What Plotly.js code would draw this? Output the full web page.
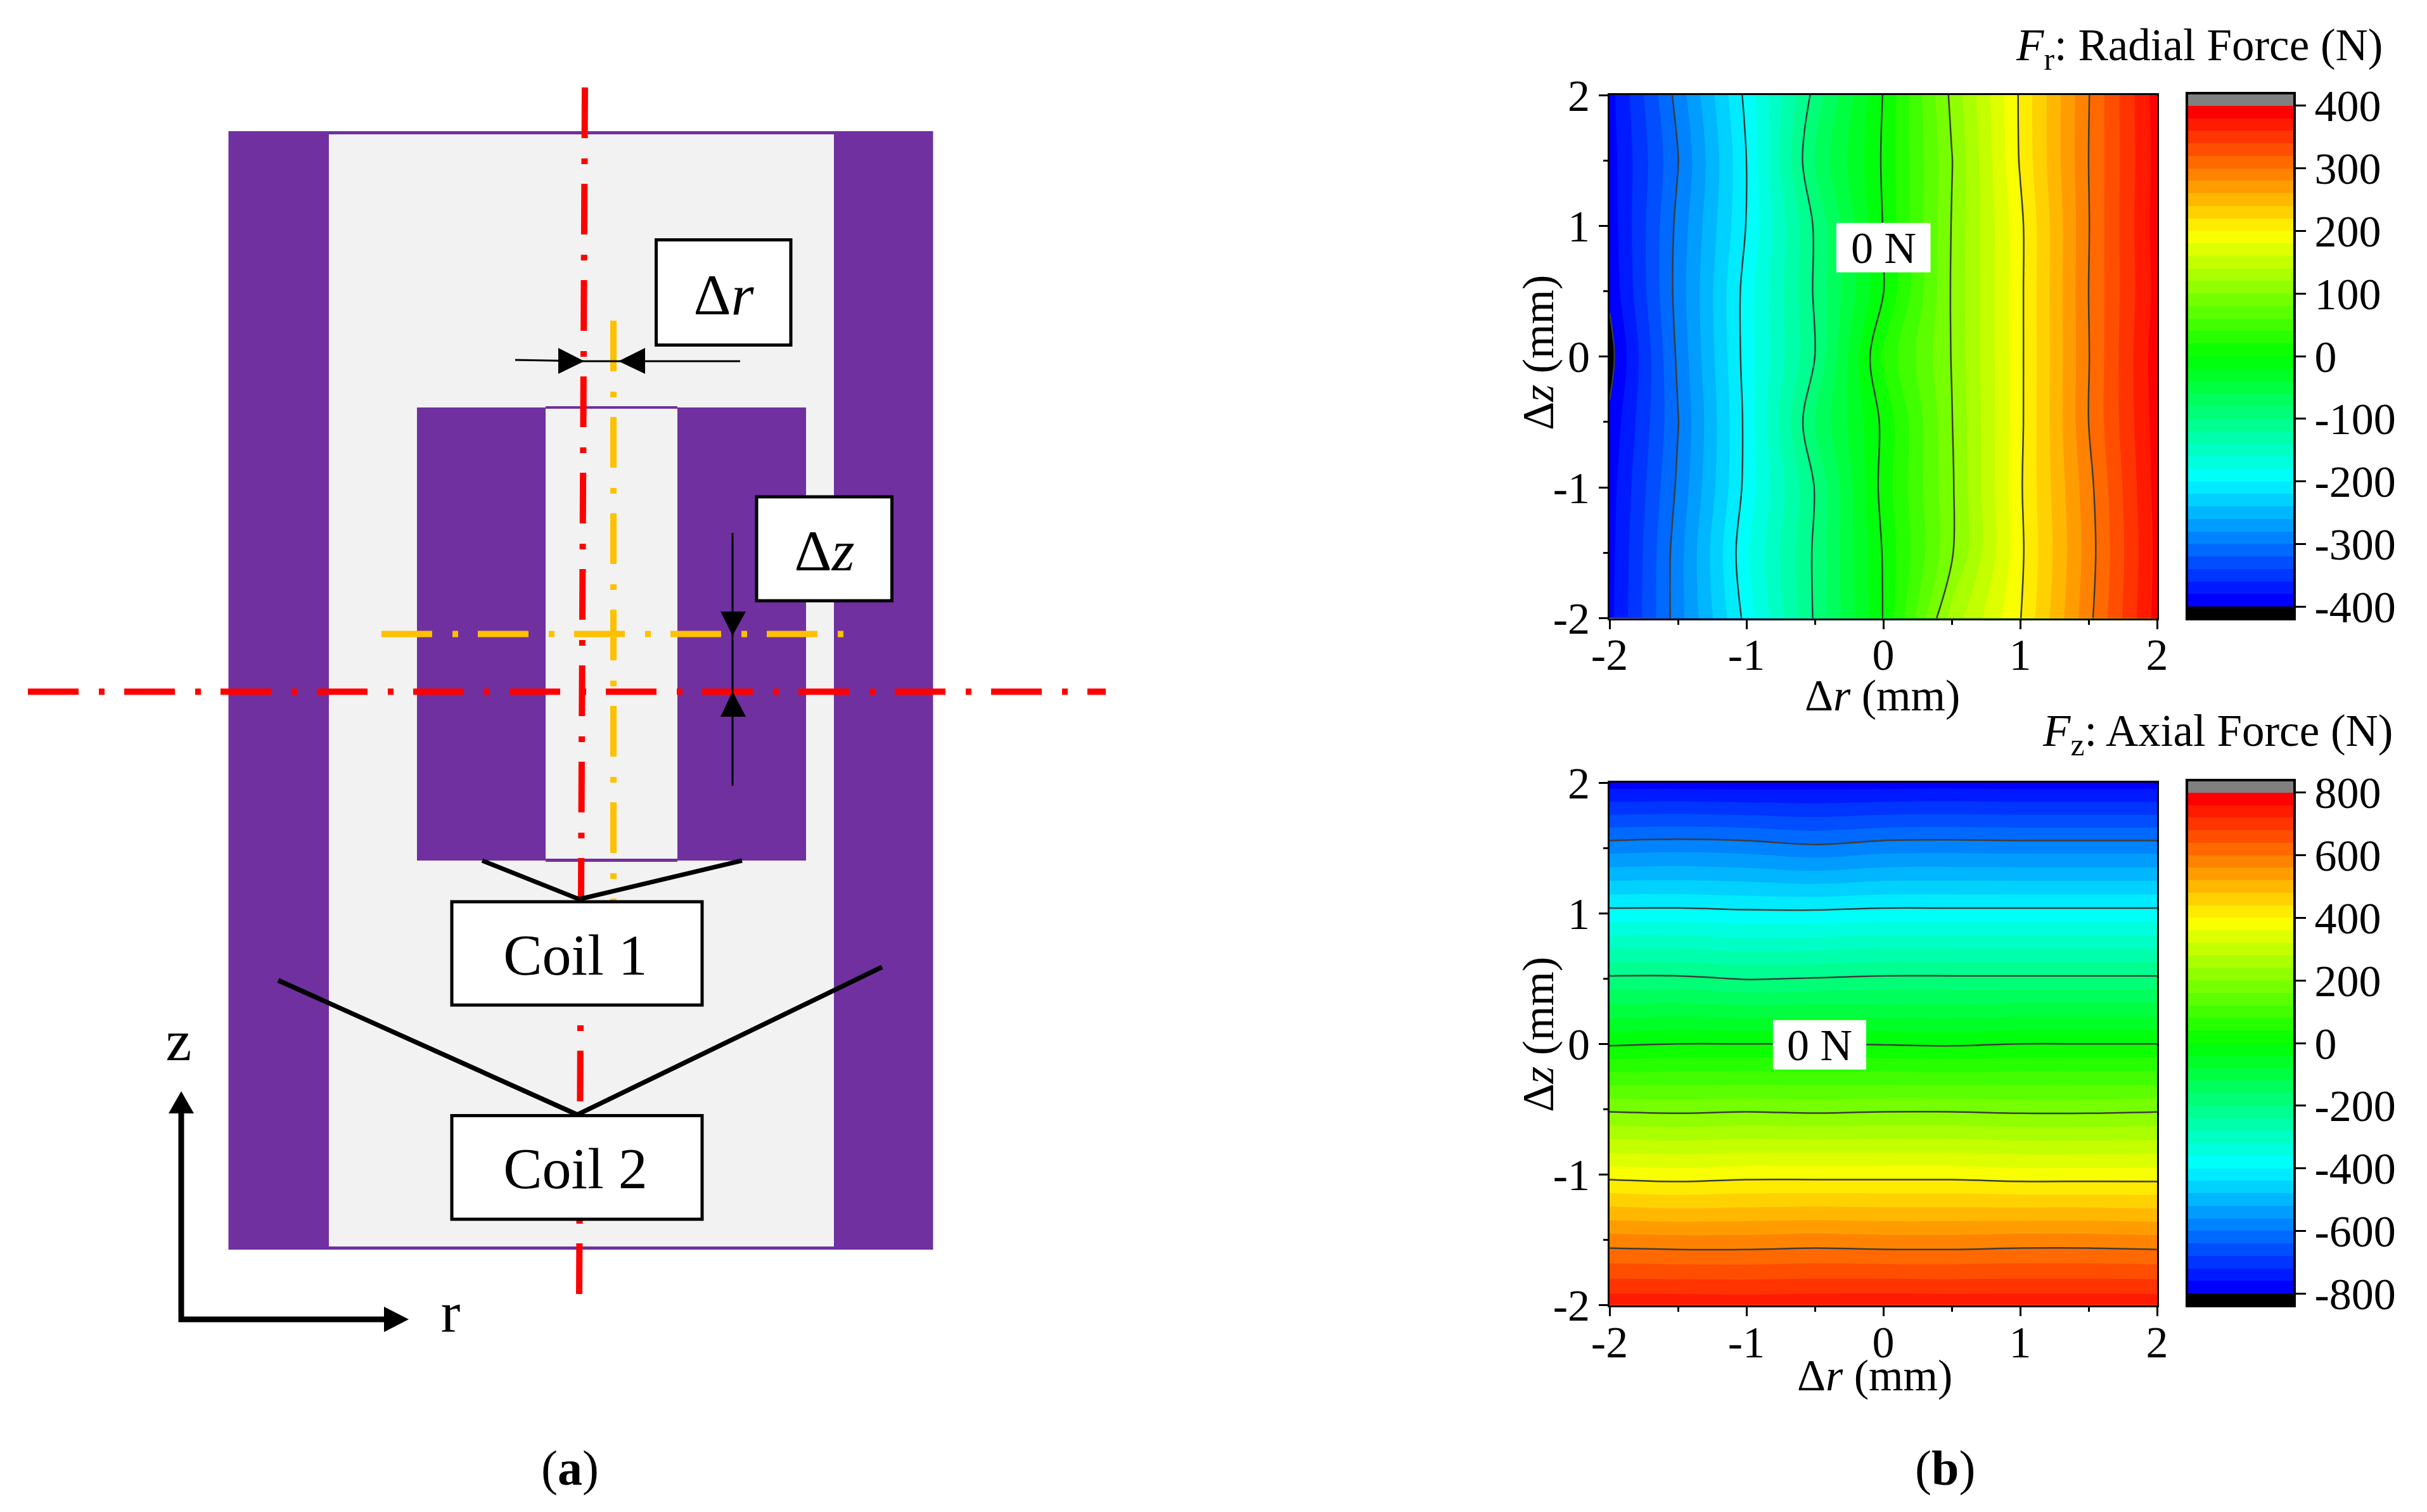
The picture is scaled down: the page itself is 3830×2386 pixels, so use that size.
<!DOCTYPE html>
<html>
<head>
<meta charset="utf-8">
<script src="https://cdn.plot.ly/plotly-3.0.1.min.js"></script>
<style>html,body{margin:0;padding:0;background:#fff}</style>
</head>
<body>
<div id="chart" style="width:3830px;height:2386px"></div>
<script>
// ---------- data ----------
var dR = [-2, -1.5, -1, -0.5, 0, 0.5, 1, 1.5, 2];
var dZ = [-2, -1.5, -1, -0.5, 0, 0.5, 1, 1.5, 2];
var radialForce = [
  [-386, -289, -193, -97, 1, 128, 199, 294, 388],
  [-388, -289, -184, -96, 2, 97, 195, 290, 386],
  [-390, -296, -193, -99, 8, 97, 197, 293, 388],
  [-396, -301, -194, -80, 5, 99, 195, 300, 390],
  [-408, -296, -191, -100, 24, 101, 195, 299, 392],
  [-396, -292, -191, -97, -1, 102, 195, 300, 388],
  [-392, -294, -199, -97, 1, 101, 195, 299, 390],
  [-390, -301, -200, -78, 3, 99, 202, 300, 388],
  [-388, -292, -194, -93, 1, 105, 203, 299, 390]
];
var axialForce = [
  [750, 750, 748, 750, 752, 750, 750, 750, 750],
  [578, 574, 574, 578, 574, 574, 578, 578, 574],
  [385, 379, 385, 385, 385, 385, 379, 379, 379],
  [192, 188, 192, 188, 192, 192, 188, 188, 192],
  [-6, 0, 0, 0, -3, -6, 0, 0, 0],
  [-192, -192, -203, -198, -192, -192, -192, -192, -192],
  [-385, -385, -390, -390, -385, -385, -385, -385, -385],
  [-577, -572, -577, -590, -577, -575, -577, -577, -577],
  [-780, -780, -782, -780, -780, -778, -780, -780, -780]
];
var axisTicks = [-2, -1, 0, 1, 2];
var axisTickText = ['-2', '-1', '0', '1', '2'];
var axisMinor = [-1.5, -0.5, 0.5, 1.5];
var frBarTicks = [-400, -300, -200, -100, 0, 100, 200, 300, 400];
var frBarText = ['-400', '-300', '-200', '-100', '0', '100', '200', '300', '400'];
var fzBarTicks = [-800, -600, -400, -200, 0, 200, 400, 600, 800];
var fzBarText = ['-800', '-600', '-400', '-200', '0', '200', '400', '600', '800'];

// ---------- styling ----------
var W = 3830, H = 2386;
var SERIF = '"Liberation Serif", serif';
var PURPLE = '#7030A0', PALE = '#F2F2F2', RED = '#FF0000', AMBER = '#FFC000', BLACK = '#000000';
var DASHDOT = '80px,32px,9px,31px';
var bandScale = [
  [0, '#000000'], [20 / 820, '#0000FF'], [215 / 820, '#00FFFF'], [0.5, '#00FF00'],
  [605 / 820, '#FFFF00'], [800 / 820, '#FF0000'], [1, '#808080']
];
function fx(px) { return px / W; }
function fy(px) { return 1 - px / H; }

function fillTrace(z, xa, ya, step, lim, ticks, text, barTop, barLen) {
  return {
    type: 'contour', x: dR, y: dZ, z: z, xaxis: xa, yaxis: ya,
    autocontour: false, zauto: false, zmin: -lim - step, zmax: lim + step,
    contours: { coloring: 'fill', showlines: false, start: -lim, end: lim, size: step },
    line: { width: 0, smoothing: 1 }, colorscale: bandScale, hoverinfo: 'skip',
    colorbar: {
      x: fx(3451), xanchor: 'left', xpad: 0, ypad: 0,
      y: fy(barTop), yanchor: 'top', lenmode: 'pixels', len: barLen,
      thicknessmode: 'pixels', thickness: 170,
      outlinewidth: 4, outlinecolor: BLACK, borderwidth: 0,
      tickmode: 'array', tickvals: ticks, ticktext: text,
      ticks: 'outside', ticklen: 16, tickwidth: 3, tickcolor: BLACK,
      tickfont: { family: SERIF, size: 70, color: BLACK }
    }
  };
}
function lineTrace(z, xa, ya, step, lim) {
  return {
    type: 'contour', x: dR, y: dZ, z: z, xaxis: xa, yaxis: ya, showscale: false,
    autocontour: false,
    contours: { coloring: 'none', showlines: true, start: -lim, end: lim, size: step },
    line: { color: '#3C3C3C', width: 2.5, smoothing: 1 }, hoverinfo: 'skip'
  };
}
function plotAxis(domain, anchor, labelShift) {
  return {
    domain: domain, anchor: anchor, range: [-2, 2], fixedrange: true,
    tickmode: 'array', tickvals: axisTicks, ticktext: axisTickText,
    ticks: 'outside', ticklen: 14, tickwidth: 3, tickcolor: BLACK,
    ticklabelstandoff: labelShift,
    minor: { tickmode: 'array', tickvals: axisMinor, ticks: 'outside', ticklen: 7, tickwidth: 3, tickcolor: BLACK },
    showline: true, mirror: true, linecolor: BLACK, linewidth: 3,
    showgrid: false, zeroline: false,
    tickfont: { family: SERIF, size: 70, color: BLACK }
  };
}

// ---------- schematic (a), in the coordinates of its own hidden axes ----------
function rect(x0, y0, x1, y1, fill, border) {
  return { type: 'rect', xref: 'x3', yref: 'y3', x0: x0, y0: y0, x1: x1, y1: y1, layer: 'below',
           fillcolor: fill, line: border ? { color: BLACK, width: border } : { width: 0 } };
}
function seg(x0, y0, x1, y1, color, width, dash) {
  return { type: 'line', xref: 'x3', yref: 'y3', x0: x0, y0: y0, x1: x1, y1: y1, layer: 'below',
           line: { color: color, width: width, dash: dash || 'solid' } };
}
function tri(a, b, c) {
  return { type: 'path', xref: 'x3', yref: 'y3', layer: 'below', fillcolor: BLACK, line: { width: 0 },
           path: 'M' + a.join(' ') + 'L' + b.join(' ') + 'L' + c.join(' ') + 'Z' };
}
var schematic = [
  rect(360.5, 207, 1472.5, 1972, PURPLE),
  rect(519, 212, 1316, 1967, PALE),
  rect(658, 643, 1272, 1358, PURPLE),
  rect(861, 641, 1069, 1360, PURPLE),
  rect(861, 645, 1069, 1355, PALE),
  seg(968, 506, 968, 1423, AMBER, 10, DASHDOT),
  seg(602, 1000.5, 1332, 1000.5, AMBER, 10, DASHDOT),
  seg(923, 138, 914, 2042, RED, 10, DASHDOT),
  seg(44, 1091.5, 1745, 1091.5, RED, 10, DASHDOT),
  seg(813, 568, 925, 570, BLACK, 3),
  seg(925, 570, 1168, 570, BLACK, 3),
  tri([881, 549], [922, 570], [881, 590]),
  tri([1018, 549], [976, 570], [1018, 590]),
  seg(1156, 841, 1156, 1240, BLACK, 3),
  tri([1137, 965], [1156, 1003], [1177, 965]),
  tri([1137, 1131], [1156, 1091], [1177, 1131]),
  seg(914, 1419, 761, 1358, BLACK, 7),
  seg(914, 1419, 1171, 1358, BLACK, 7),
  seg(911, 1759, 439, 1547, BLACK, 7.5),
  seg(911, 1759, 1392, 1526, BLACK, 7.5),
  rect(1035.5, 378.5, 1248, 544.5, '#FFFFFF', 5),
  rect(1194, 784, 1407.5, 948, '#FFFFFF', 5),
  rect(713, 1423, 1108, 1586, '#FFFFFF', 5),
  rect(713, 1760.5, 1108, 1924, '#FFFFFF', 5),
  seg(286, 2086, 286, 1757, BLACK, 9),
  tri([266, 1757], [286, 1722], [306, 1757]),
  seg(282, 2082, 606, 2082, BLACK, 9),
  tri([606, 2062], [645, 2082], [606, 2102])
];
var labelText = ['\u0394<i>r</i>', '\u0394<i>z</i>', 'Coil 1', 'Coil 2', 'z', 'r'];
var labelX = [1142, 1301, 908, 908, 282, 711];
var labelY = [473, 877, 1515, 1852, 1650, 2079];
var labelTrace = {
  type: 'scatter', mode: 'text', x: labelX, y: labelY, text: labelText, xaxis: 'x3', yaxis: 'y3',
  textposition: 'middle center', textfont: { family: SERIF, size: 92, color: BLACK },
  hoverinfo: 'skip', showlegend: false
};

// ---------- white "0 N" tags on the maps ----------
var tags = [
  { type: 'rect', xref: 'x', yref: 'y', x0: -0.343, x1: 0.345, y0: 0.644, y1: 1.022, fillcolor: '#FFFFFF', line: { width: 0 } },
  { type: 'rect', xref: 'x2', yref: 'y2', x0: -0.806, x1: -0.125, y0: -0.196, y1: 0.182, fillcolor: '#FFFFFF', line: { width: 0 } }
];
function note(text, x, y, size, anchor, angle) {
  return { text: text, xref: 'paper', yref: 'paper', x: fx(x), y: fy(y), showarrow: false, textangle: angle || 0,
           xanchor: anchor || 'center', yanchor: 'middle', font: { family: SERIF, size: size, color: BLACK } };
}

var data = [
  fillTrace(radialForce, 'x', 'y', 20, 400, frBarTicks, frBarText, 147, 830),
  lineTrace(radialForce, 'x', 'y', 100, 400),
  fillTrace(axialForce, 'x2', 'y2', 40, 800, fzBarTicks, fzBarText, 1231, 830),
  lineTrace(axialForce, 'x2', 'y2', 200, 800),
  labelTrace
];
var layout = {
  width: W, height: H, margin: { l: 0, r: 0, t: 0, b: 0 }, autosize: false,
  paper_bgcolor: '#FFFFFF', plot_bgcolor: '#FFFFFF', showlegend: false,
  xaxis: plotAxis([fx(2540), fx(3404)], 'y', -20),
  yaxis: plotAxis([fy(975.5), fy(150)], 'x', 0),
  xaxis2: plotAxis([fx(2540), fx(3404)], 'y2', -19),
  yaxis2: plotAxis([fy(2059.5), fy(1235)], 'x2', 0),
  xaxis3: { domain: [0, fx(2000)], range: [0, 2000], anchor: 'y3', visible: false, fixedrange: true },
  yaxis3: { domain: [0, 1], range: [H, 0], anchor: 'x3', visible: false, fixedrange: true },
  shapes: schematic.concat(tags),
  annotations: [
    note('<i>F</i><sub>r</sub>: Radial Force (N)', 3762, 77, 71, 'right'),
    note('<i>F</i><sub>z</sub>: Axial Force (N)', 3778, 1159, 71, 'right'),
    note('\u0394<i>r</i> (mm)', 2970, 1098, 70),
    note('\u0394<i>z</i> (mm)', 2427, 557, 70, 'center', -90),
    note('\u0394<i>r</i> (mm)', 2958, 2170, 70),
    note('\u0394<i>z</i> (mm)', 2427, 1633, 70, 'center', -90),
    note('0 N', 2972, 391, 70),
    note('0 N', 2871, 1649, 70),
    note('(<b>a</b>)', 899, 2316, 78),
    note('(<b>b</b>)', 3069, 2316, 78)
  ]
};
Plotly.newPlot('chart', data, layout, { displayModeBar: false, responsive: false });
</script>
</body>
</html>
